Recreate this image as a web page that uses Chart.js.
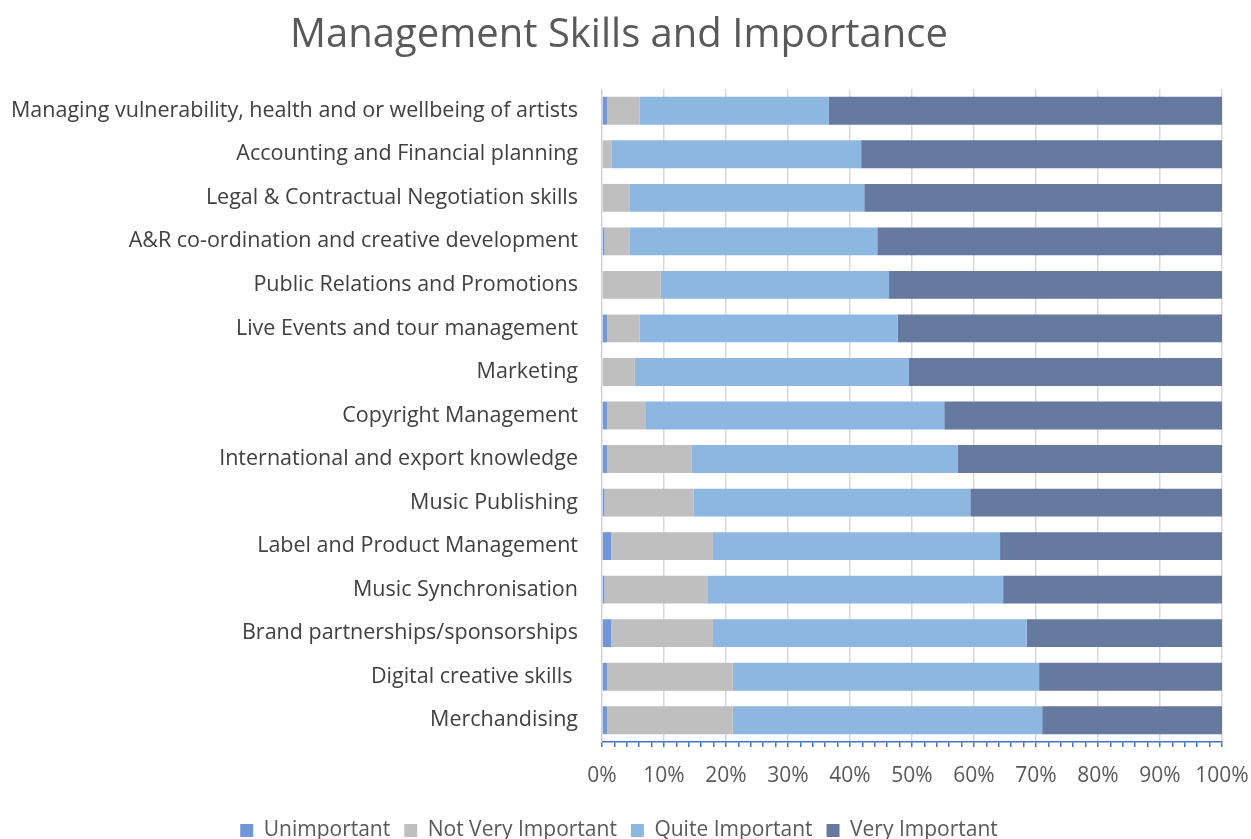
<!DOCTYPE html>
<html>
<head>
<meta charset="utf-8">
<script src="https://cdn.jsdelivr.net/npm/chart.js@4/dist/chart.umd.min.js"></script>
<style>
  html, body { margin: 0; padding: 0; background: #fff; }
  #wrap { width: 1251px; height: 839px; }
</style>
</head>
<body>
<div id="wrap"><canvas id="grafico"></canvas></div>
<script>
const categories = [
  'Managing vulnerability, health and or wellbeing of artists',
  'Accounting and Financial planning',
  'Legal & Contractual Negotiation skills',
  'A&R co-ordination and creative development',
  'Public Relations and Promotions',
  'Live Events and tour management',
  'Marketing',
  'Copyright Management',
  'International and export knowledge',
  'Music Publishing',
  'Label and Product Management',
  'Music Synchronisation',
  'Brand partnerships/sponsorships',
  'Digital creative skills ',
  'Merchandising'
];

const unimportant      = [0.8, 0,   0,    0.4, 0,    0.8, 0,    0.8, 0.8,  0.4,  1.5,  0.4,  1.5,  0.8,  0.8];
const notVeryImportant = [5.3, 1.5, 4.4,  4.0, 9.5,  5.3, 5.3,  6.3, 13.6, 14.4, 16.4, 16.7, 16.4, 20.3, 20.3];
const quiteImportant   = [30.5, 40.3, 37.9, 40.0, 36.8, 41.6, 44.2, 48.1, 43.0, 44.6, 46.3, 47.6, 50.6, 49.4, 49.9];
const veryImportant    = [63.4, 58.2, 57.7, 55.6, 53.7, 52.3, 50.5, 44.8, 42.6, 40.6, 35.8, 35.3, 31.5, 29.5, 29.0];

const seriesNames = ['Unimportant', 'Not Very Important', 'Quite Important', 'Very Important'];
const seriesColors = ['#6f97d9', '#bfbfbf', '#8db7e1', '#66799f'];

const fonte = '"Open Sans", sans-serif';

const ctx = document.getElementById('grafico').getContext('2d');
new Chart(ctx, {
  type: 'bar',
  data: {
    labels: categories,
    datasets: [unimportant, notVeryImportant, quiteImportant, veryImportant].map((d, i) => ({
      label: seriesNames[i],
      data: d,
      backgroundColor: seriesColors[i],
      borderWidth: 0,
      categoryPercentage: 0.64,
      barPercentage: 1.0
    }))
  },
  options: {
    responsive: true,
    maintainAspectRatio: false,
    animation: false,
    indexAxis: 'y',
    layout: { padding: { left: -13, right: 0, top: 0, bottom: -12 } },
    scales: {
      x: {
        stacked: true,
        min: 0,
        max: 100,
        // deixa o rótulo "100%" encostar na borda, como no original
        afterFit: (s) => { s.paddingRight = 29; s.paddingLeft = 12; },
        ticks: {
          stepSize: 2,
          autoSkip: false,
          maxRotation: 0,
          padding: 19,
          color: '#595959',
          font: { family: fonte, size: 21, lineHeight: 1 },
          callback: (value) => (value % 10 === 0 ? value + '%' : '')
        },
        grid: {
          color: (c) => (c.tick && c.tick.value % 10 === 0 ? '#d9d9d9' : 'rgba(0,0,0,0)'),
          tickColor: '#4472c4',
          tickLength: 5,
          lineWidth: 1.5
        },
        border: { color: '#4472c4', width: 1.5 }
      },
      y: {
        stacked: true,
        ticks: {
          color: '#404040',
          padding: 24,
          font: { family: fonte, size: 21.5 }
        },
        grid: { display: false, drawTicks: false },
        border: { color: '#d0d0d0', width: 1 }
      }
    },
    plugins: {
      title: {
        display: true,
        text: 'Management Skills and Importance',
        color: '#595959',
        font: { family: fonte, size: 40, weight: 'normal' },
        padding: { top: 12, bottom: 29 }
      },
      legend: {
        position: 'bottom',
        labels: {
          color: '#595959',
          font: { family: fonte, size: 21 },
          boxWidth: 13,
          boxHeight: 13,
          padding: 14
        }
      },
      tooltip: { enabled: false }
    }
  }
});
</script>
</body>
</html>
